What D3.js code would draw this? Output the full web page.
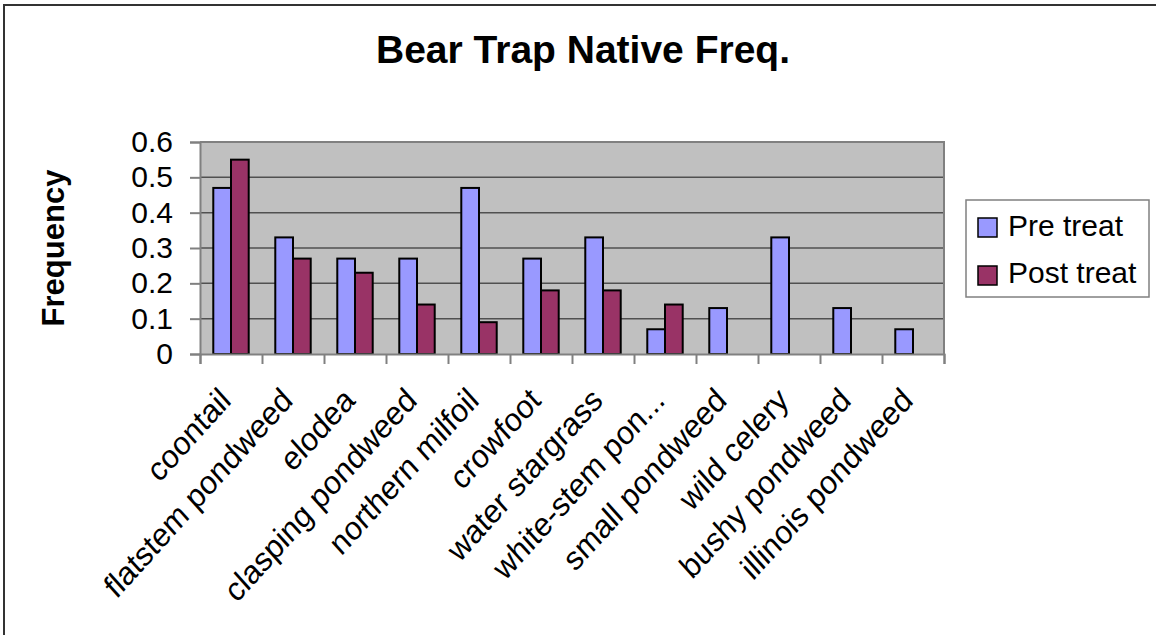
<!DOCTYPE html>
<meta charset="utf-8">

<!-- Load d3.js -->
<script src="https://d3js.org/d3.v7.min.js"></script>

<style>
  body { margin: 0; background: #fff; }
  text { font-family: Arial, "Liberation Sans", sans-serif; fill: #000; }
</style>

<!-- Create a div where the graph will take place -->
<div id="my_dataviz"></div>

<script>

  // data
  var categories = ["coontail", "flatstem pondweed", "elodea", "clasping pondweed",
                    "northern milfoil", "crowfoot", "water stargrass", "white-stem pon...",
                    "small pondweed", "wild celery", "bushy pondweed", "illinois pondweed"];
  var seriesNames = ["Pre treat", "Post treat"];
  var preTreat  = [0.47, 0.33, 0.27, 0.27, 0.47, 0.27, 0.33, 0.07, 0.13, 0.33, 0.13, 0.07];
  var postTreat = [0.55, 0.27, 0.23, 0.14, 0.09, 0.18, 0.18, 0.14, null, null, null, null];
  var yTicks = [0, 0.1, 0.2, 0.3, 0.4, 0.5, 0.6];
  var colors = ["#9999ff", "#993366"];

  // set the dimensions and margins of the graph
  var W = 1156, H = 635;
  var margin = {top: 142, right: 212, bottom: 281, left: 200},
      width = W - margin.left - margin.right,
      height = H - margin.top - margin.bottom;

  var root = d3.select("#my_dataviz")
    .append("svg")
      .attr("width", W)
      .attr("height", H);

  // chart border (only left and top are in the frame)
  root.append("rect")
    .attr("x", 4).attr("y", 5)
    .attr("width", W + 20).attr("height", H + 20)
    .attr("fill", "none")
    .attr("stroke", "#333")
    .attr("stroke-width", 2);

  // title
  root.append("text")
    .attr("x", 583).attr("y", 63)
    .attr("text-anchor", "middle")
    .style("font-size", "39px")
    .style("font-weight", "bold")
    .text("Bear Trap Native Freq.");

  // y label
  root.append("text")
    .attr("transform", "translate(64," + (margin.top + height / 2) + ")rotate(-90)")
    .attr("text-anchor", "middle")
    .style("font-size", "31px")
    .style("font-weight", "bold")
    .text("Frequency");

  var svg = root.append("g")
    .attr("transform", "translate(" + margin.left + "," + margin.top + ")");

  // scales
  var x = d3.scaleBand()
    .range([0, width])
    .domain(categories)
    .padding(0);

  var xSub = d3.scaleBand()
    .domain(seriesNames)
    .range([0, x.bandwidth()])
    .paddingInner(0)
    .paddingOuter(0.75);

  var y = d3.scaleLinear()
    .domain([0, 0.6])
    .range([height, 0]);

  // plot background
  svg.append("rect")
    .attr("width", width)
    .attr("height", height)
    .attr("fill", "#c0c0c0");

  // gridlines
  svg.selectAll(".grid")
    .data(yTicks.slice(1, -1))
    .enter()
    .append("line")
      .attr("x1", 0).attr("x2", width)
      .attr("y1", function(d) { return y(d); })
      .attr("y2", function(d) { return y(d); })
      .attr("stroke", "#505050")
      .attr("stroke-width", 1.5);

  // plot frame top / right
  svg.append("path")
    .attr("d", "M0," + y(0.6) + "H" + width + "V" + height)
    .attr("fill", "none")
    .attr("stroke", "#808080")
    .attr("stroke-width", 2);

  // bars
  var seriesData = [preTreat, postTreat];
  seriesData.forEach(function(vals, s) {
    svg.selectAll(".bar" + s)
      .data(vals.map(function(v, i) { return {cat: categories[i], v: v}; })
                .filter(function(d) { return d.v != null; }))
      .enter()
      .append("rect")
        .attr("x", function(d) { return x(d.cat) + xSub(seriesNames[s]); })
        .attr("y", function(d) { return y(d.v); })
        .attr("width", xSub.bandwidth())
        .attr("height", function(d) { return height - y(d.v); })
        .attr("fill", colors[s])
        .attr("stroke", "#000")
        .attr("stroke-width", 2);
  });

  // Y axis
  var yAxis = svg.append("g")
    .call(d3.axisLeft(y).tickValues(yTicks).tickSize(10).tickPadding(17)
            .tickFormat(function(d) { return d === 0 ? "0" : d3.format(".1f")(d); }));
  yAxis.select(".domain").attr("stroke", "#808080").attr("stroke-width", 2);
  yAxis.selectAll(".tick line").attr("stroke", "#808080").attr("stroke-width", 2);
  yAxis.selectAll("text")
    .style("font-size", "30px")
    .style("font-family", "Arial, 'Liberation Sans', sans-serif");

  // X axis: ticks between categories
  var xEdges = d3.scaleLinear().domain([0, categories.length]).range([0, width]);
  var xAxis = svg.append("g")
    .attr("transform", "translate(0," + height + ")")
    .call(d3.axisBottom(xEdges).tickValues(d3.range(categories.length + 1))
            .tickSize(10).tickFormat(""));
  xAxis.select(".domain").attr("stroke", "#808080").attr("stroke-width", 2);
  xAxis.selectAll(".tick line").attr("stroke", "#808080").attr("stroke-width", 2);

  // category labels
  svg.append("g")
    .selectAll("text")
    .data(categories)
    .enter()
    .append("text")
      .attr("transform", function(d) {
        return "translate(" + (x(d) + x.bandwidth() / 2 - 6) + "," + (height + 40) + ")scale(1,1.11)rotate(-45)";
      })
      .attr("dy", "0.35em")
      .attr("text-anchor", "end")
      .style("font-size", "30px")
      .text(function(d) { return d; });

  // legend
  var legend = root.append("g").attr("transform", "translate(966,200)");
  legend.append("rect")
    .attr("width", 183).attr("height", 97)
    .attr("fill", "#fff")
    .attr("stroke", "#808080")
    .attr("stroke-width", 1.5);
  seriesNames.forEach(function(name, i) {
    legend.append("rect")
      .attr("x", 12).attr("y", 18 + i * 48)
      .attr("width", 19).attr("height", 19)
      .attr("fill", colors[i])
      .attr("stroke", "#000")
      .attr("stroke-width", 1.5);
    legend.append("text")
      .attr("x", 42).attr("y", 36 + i * 47)
      .style("font-size", "30px")
      .text(name);
  });

</script>
